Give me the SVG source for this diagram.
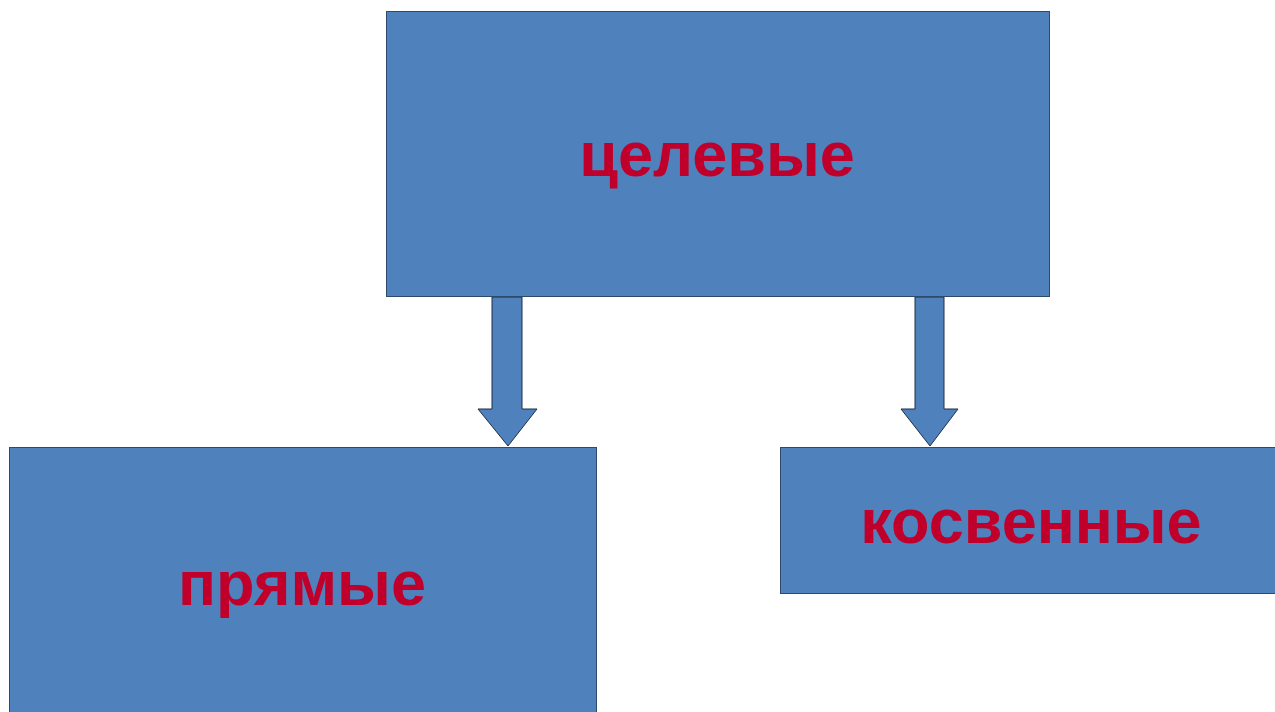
<svg xmlns="http://www.w3.org/2000/svg" width="1275" height="712" viewBox="0 0 1275 712">
<style>
.box{fill:#4F81BD;stroke:#2E4A6B;stroke-width:1}
.lbl{font-family:"Liberation Sans",Arial,sans-serif;font-weight:bold;fill:#C0002A;text-anchor:middle;font-size:63px}
.arr{fill:#4F81BD;stroke:#1F2F45;stroke-width:1}
</style>
<rect width="1275" height="712" fill="#FFFFFF"/>
<g id="connectors">
<path class="arr" d="M492,297 L522,297 L522,409 L537,409 L508,446 L478,409 L492,409 Z"/>
<path class="arr" d="M915,297 L944,297 L944,409 L958,409 L930,446 L901,409 L915,409 Z"/>
</g>
<g id="node-top">
<rect class="box" x="386.5" y="11.5" width="663" height="285"/>
<text class="lbl" x="717" y="176">целевые</text>
</g>
<g id="node-left">
<rect class="box" x="9.5" y="447.5" width="587" height="270"/>
<text class="lbl" x="302" y="605">прямые</text>
</g>
<g id="node-right">
<rect class="box" x="780.5" y="447.5" width="500" height="146"/>
<text class="lbl" x="1031" y="543">косвенные</text>
</g>
</svg>
